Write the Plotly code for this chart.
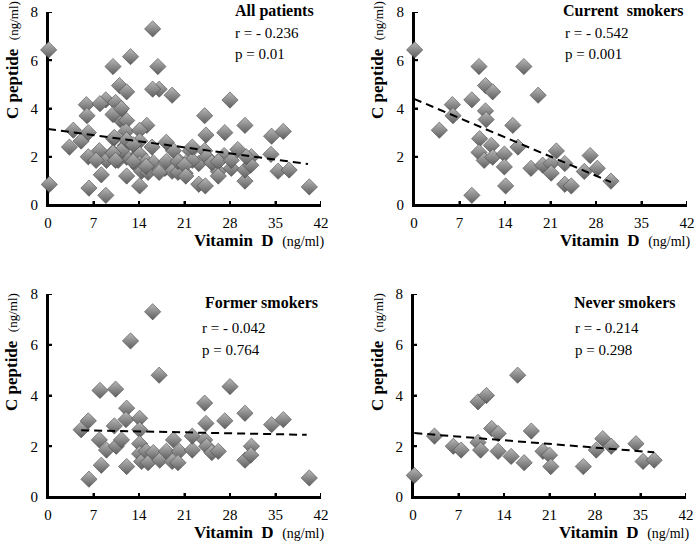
import plotly.graph_objects as go

# ---------------- data ----------------
current_vitd = [0.1, 3.9, 5.9, 6.0, 8.9, 8.9, 10.0, 10.1, 10.0, 10.8, 11.0, 11.0, 11.1,
                12.1, 11.9, 12.1, 13.9, 13.9, 14.1, 15.2, 16.0, 16.9, 19.1, 18.0, 19.8,
                21.1, 21.1, 21.9, 23.2, 23.2, 24.2, 26.2, 27.1, 28.2, 30.3]
current_cpep = [6.43, 3.10, 4.16, 3.70, 4.36, 0.40, 5.74, 2.75, 2.18, 1.85, 4.95, 3.90, 3.54,
                4.69, 2.47, 1.98, 2.11, 1.58, 0.79, 3.30, 2.40, 5.74, 4.55, 1.52, 1.65,
                1.72, 1.32, 2.24, 1.72, 0.86, 0.79, 1.39, 2.05, 1.52, 0.99]

former_vitd = [5.1, 6.2, 6.3, 8.0, 7.9, 8.2, 9.0, 10.4, 10.2, 10.5, 11.3, 12.1, 12.1, 12.0,
               12.7, 14.1, 14.1, 14.1, 14.1, 14.4, 15.1, 15.4, 16.1, 16.2, 17.1, 17.2, 18.2,
               19.3, 19.1, 20.2, 20.0, 22.2, 22.2, 24.1, 24.3, 24.1, 24.4, 25.2, 26.2, 27.2,
               28.0, 30.3, 30.3, 31.3, 31.2, 34.4, 36.2, 40.2]
former_cpep = [2.65, 3.00, 0.70, 4.20, 2.25, 1.25, 1.85, 4.25, 2.80, 2.00, 2.25, 1.20, 3.50, 3.05,
               6.15, 3.10, 2.65, 2.10, 1.70, 1.40, 1.80, 1.35, 7.30, 1.75, 4.80, 1.45, 1.80,
               2.25, 1.40, 1.80, 1.35, 1.85, 2.40, 3.70, 2.90, 2.25, 2.00, 1.75, 1.80, 3.00,
               4.35, 3.30, 1.45, 2.00, 1.65, 2.85, 3.05, 0.75]

never_vitd = [0.2, 3.3, 6.2, 7.4, 10.0, 11.3, 10.0, 10.4, 12.1, 13.1, 13.1, 15.1, 16.1, 17.1,
              18.2, 20.0, 21.0, 21.2, 26.2, 28.2, 29.2, 30.5, 34.3, 35.4, 37.1]
never_cpep = [0.85, 2.40, 2.00, 1.85, 3.75, 4.00, 2.15, 1.85, 2.70, 2.50, 1.80, 1.60, 4.80, 1.35,
              2.60, 1.80, 1.65, 1.20, 1.20, 1.85, 2.30, 2.00, 2.10, 1.40, 1.45]

all_vitd = current_vitd + former_vitd + never_vitd
all_cpep = current_cpep + former_cpep + never_cpep

# trend lines: [x_start, x_end], [y_start, y_end]
trend_all_x, trend_all_y = [0.0, 40.0], [3.15, 1.70]
trend_current_x, trend_current_y = [0.0, 30.3], [4.40, 0.95]
trend_former_x, trend_former_y = [5.1, 39.8], [2.63, 2.45]
trend_never_x, trend_never_y = [0.2, 37.1], [2.52, 1.76]

panel_titles = ["All patients", "Current  smokers", "Former smokers", "Never smokers"]
r_values = ["- 0.236", "- 0.542", "- 0.042", "- 0.214"]
p_values = ["0.01", "0.001", "0.764", "0.298"]

x_ticks = [0, 7, 14, 21, 28, 35, 42]
y_ticks = [0, 2, 4, 6, 8]
X_RANGE = [0, 42]
Y_RANGE = [0, 8]

# ---------------- layout geometry (pixels) ----------------
W, H = 700, 549
def px(x):
    return x / W
def py(y):
    return 1 - y / H

panels = [
    dict(x0=48, x1=321, y0=12, y1=205),   # TL
    dict(x0=414, x1=687, y0=12, y1=205),  # TR
    dict(x0=48, x1=321, y0=294, y1=497),  # BL
    dict(x0=413, x1=686, y0=294, y1=497), # BR
]
series = [
    (all_vitd, all_cpep, trend_all_x, trend_all_y),
    (current_vitd, current_cpep, trend_current_x, trend_current_y),
    (former_vitd, former_cpep, trend_former_x, trend_former_y),
    (never_vitd, never_cpep, trend_never_x, trend_never_y),
]
text_pos = [
    dict(tx=233, ty=11, rx=233, ry=33, pyy=54),
    dict(tx=561, ty=11, rx=563, ry=33, pyy=54),
    dict(tx=203, ty=303, rx=200, ry=328, pyy=350),
    dict(tx=572, ty=303, rx=573, ry=328, pyy=350),
]
ytitle_pos = [(12, 60), (377, 60), (11, 352), (377, 352)]

FONT = "Liberation Serif, Times New Roman, serif"
TICKLEN = 4   # px


def axis_frame(pan):
    """Axis L-line plus inside tick marks as one polyline (data units, gaps as None)."""
    ux = (X_RANGE[1] - X_RANGE[0]) / (pan["x1"] - pan["x0"])  # data units per px
    uy = (Y_RANGE[1] - Y_RANGE[0]) / (pan["y1"] - pan["y0"])
    xs = [X_RANGE[1], X_RANGE[0], X_RANGE[0], None]
    ys = [Y_RANGE[0], Y_RANGE[0], Y_RANGE[1], None]
    for t in x_ticks:
        xs += [t, t, None]
        ys += [Y_RANGE[0], Y_RANGE[0] + TICKLEN * uy, None]
    for t in y_ticks:
        xs += [X_RANGE[0], X_RANGE[0] + TICKLEN * ux, None]
        ys += [t, t, None]
    return xs, ys


fig = go.Figure()
annotations = []
for i, (pan, (xs, ys, tx, ty), tp, (ytx, yty)) in enumerate(zip(panels, series, text_pos, ytitle_pos)):
    n = "" if i == 0 else str(i + 1)
    xa, ya = "x" + n, "y" + n
    fx, fy = axis_frame(pan)
    fig.add_trace(go.Scatter(
        x=fx, y=fy, mode="lines", line=dict(width=2, color="#000000"),
        xaxis=xa, yaxis=ya, showlegend=False, hoverinfo="skip", cliponaxis=False,
        connectgaps=False,
    ))
    fig.add_trace(go.Scatter(
        x=xs, y=ys, mode="markers", xaxis=xa, yaxis=ya, showlegend=False,
        cliponaxis=False,
        marker=dict(symbol="diamond", size=12.5, color="#b8b8b8",
                    gradient=dict(type="vertical", color="#5e5e5e"),
                    line=dict(color="#4a4a4a", width=0.6)),
    ))
    fig.add_trace(go.Scatter(
        x=tx, y=ty, mode="lines", xaxis=xa, yaxis=ya, showlegend=False,
        cliponaxis=False,
        line=dict(color="black", width=2, dash="8px,5px"),
    ))
    axis_common = dict(showgrid=False, zeroline=False, showline=True, linecolor="black",
                       linewidth=2, mirror=False, ticks="inside", ticklen=TICKLEN, tickwidth=2,
                       tickcolor="black", automargin=False, layer="below traces",
                       tickfont=dict(family=FONT, size=15, color="black"))
    fig.update_layout(**{
        ("xaxis" + n): dict(axis_common, domain=[px(pan["x0"]), px(pan["x1"])],
                            range=X_RANGE, tickvals=x_ticks, anchor=ya,
                            ticklabelstandoff=3),
        ("yaxis" + n): dict(axis_common, domain=[py(pan["y1"]), py(pan["y0"])],
                            range=Y_RANGE, tickvals=y_ticks, anchor=xa,
                            ticklabelstandoff=5),
    })
    annotations += [
        dict(text="<b>" + panel_titles[i] + "</b>", x=px(tp["tx"]), y=py(tp["ty"]),
             xref="paper", yref="paper", xanchor="left", yanchor="middle", showarrow=False,
             font=dict(family=FONT, size=16, color="black")),
        dict(text="r = " + r_values[i], x=px(tp["rx"]), y=py(tp["ry"]),
             xref="paper", yref="paper", xanchor="left", yanchor="middle", showarrow=False,
             font=dict(family=FONT, size=15, color="black")),
        dict(text="p = " + p_values[i], x=px(tp["rx"]), y=py(tp["pyy"]),
             xref="paper", yref="paper", xanchor="left", yanchor="middle", showarrow=False,
             font=dict(family=FONT, size=15, color="black")),
        dict(text="<b>C peptide</b>  <span style='font-size:13px'>(ng/ml)</span>",
             x=px(ytx), y=py(yty), textangle=-90,
             xref="paper", yref="paper", xanchor="center", yanchor="middle", showarrow=False,
             font=dict(family=FONT, size=17, color="black")),
        dict(text="<b>Vitamin  D</b>  <span style='font-size:14px'>(ng/ml)</span>",
             x=px(pan["x1"] + 5), y=py(pan["y1"] + 35),
             xref="paper", yref="paper", xanchor="right", yanchor="middle", showarrow=False,
             font=dict(family=FONT, size=17, color="black")),
    ]

fig.update_layout(template="simple_white", width=W, height=H,
                  margin=dict(l=0, r=0, t=0, b=0, pad=0),
                  paper_bgcolor="white", plot_bgcolor="white",
                  annotations=annotations)
fig.write_html("out.html", config={"displayModeBar": False},
               post_script="document.body.style.margin='0';document.body.style.padding='0';")
